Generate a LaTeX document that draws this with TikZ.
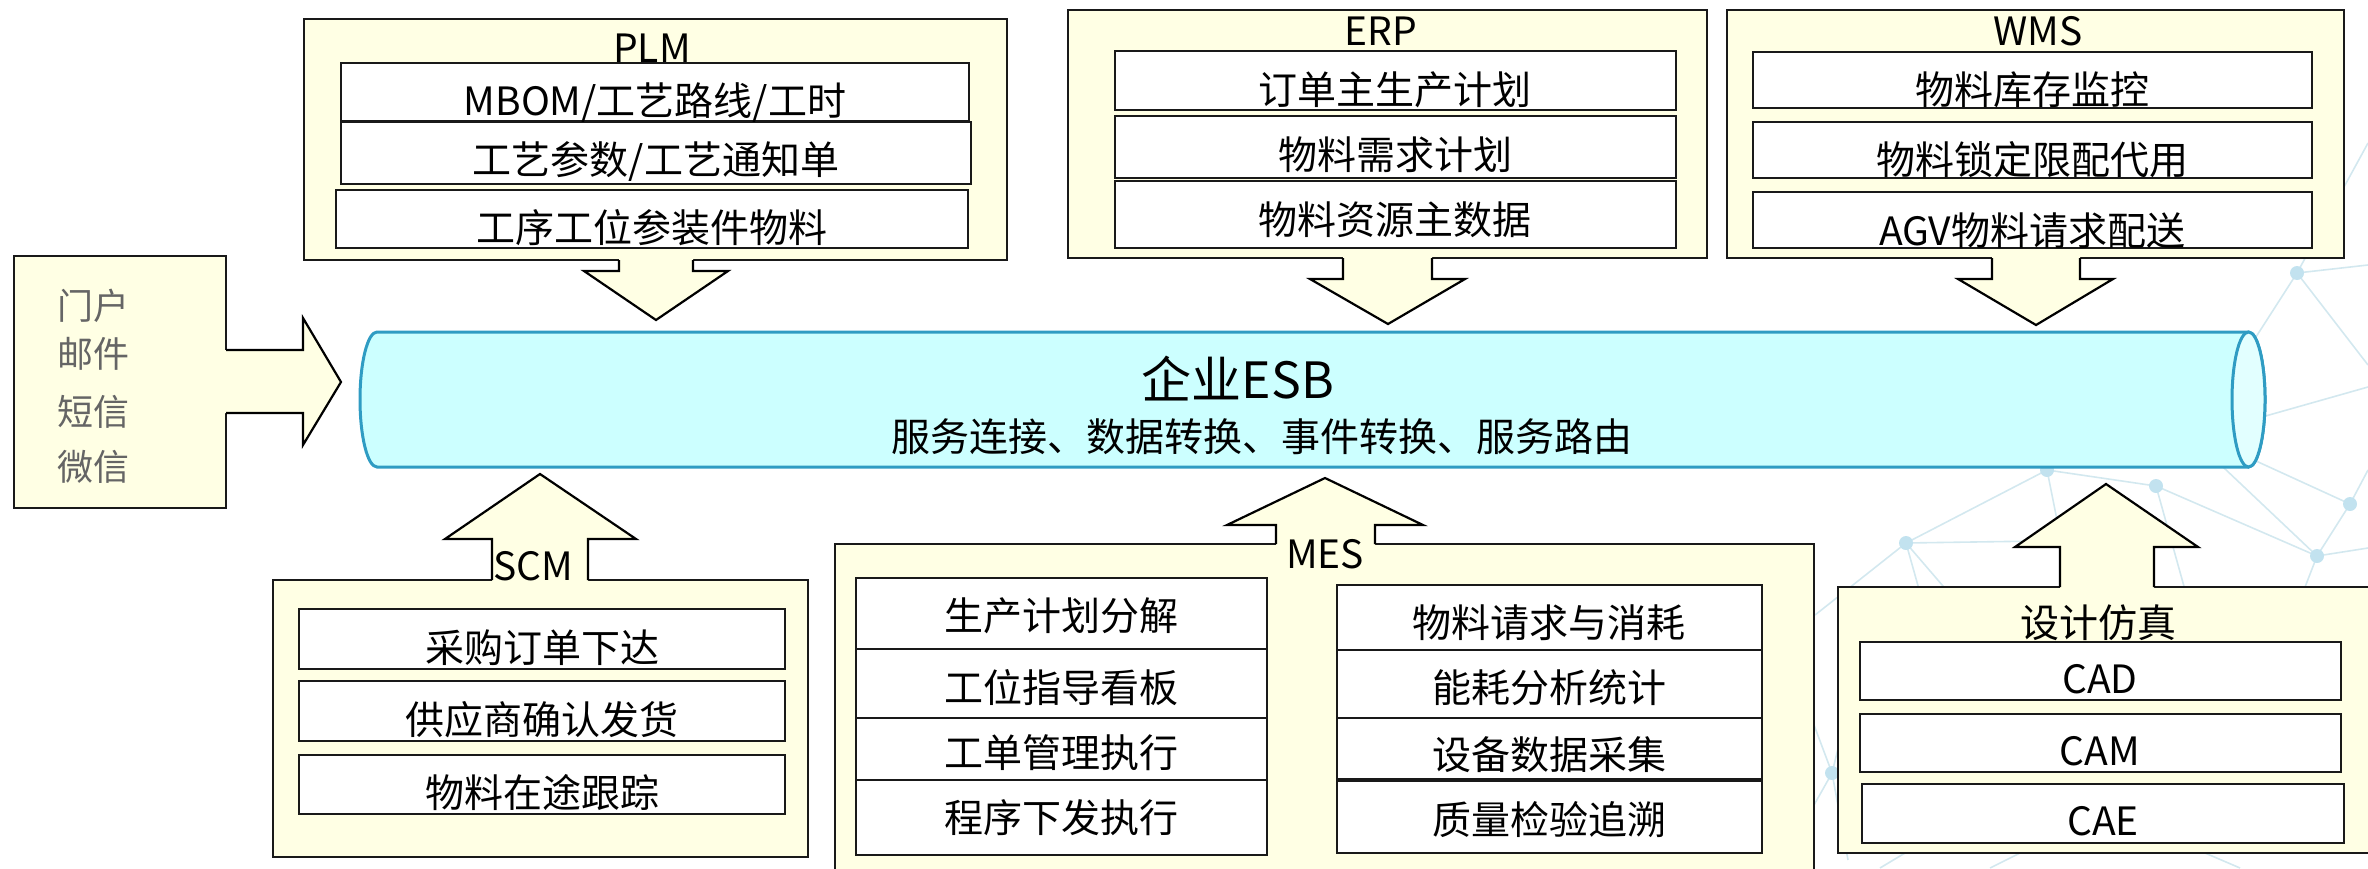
\documentclass[tikz,border=0pt]{standalone}
\usepackage{fontspec}
\setmainfont{Noto Sans CJK SC}
\definecolor{cream}{HTML}{FFFFE4}
\definecolor{esbfill}{HTML}{CCFFFF}
\definecolor{esblight}{HTML}{E2FFFF}
\definecolor{esbline}{HTML}{2F9CC3}
\definecolor{netline}{HTML}{D3E8EF}
\definecolor{netdot}{HTML}{C2E2EF}
\definecolor{leftgray}{HTML}{656565}
\begin{document}
\begin{tikzpicture}[x=1pt,y=-1pt,
  outer/.style={draw=black!90, line width=2.4pt, fill=cream, rectangle, inner sep=0pt},
  innerbox/.style={draw=black!90, line width=2pt, fill=white},
  txt/.style={font=\fontsize{39}{47}\selectfont, anchor=base, inner sep=0pt},
  lefttxt/.style={font=\fontsize{36}{42}\selectfont, anchor=base, inner sep=0pt, text=leftgray},
  arrfill/.style={fill=cream},
  arrline/.style={draw=black, line width=2.2pt, line join=miter},
  netl/.style={draw=netline, line width=1.6pt},
  netd/.style={fill=netdot}]
\useasboundingbox (0,0) rectangle (2368,868);

% ---------- background network ----------
\coordinate (nA) at (2297,273);
\coordinate (nB) at (2047,470);
\coordinate (nC) at (2156,486);
\coordinate (nD) at (1906,543);
\coordinate (nE) at (2350,504);
\coordinate (nF) at (2317,556);
\coordinate (nG) at (1832,773);
\draw[netl] (2368,143) -- (nA) -- (2368,265);
\draw[netl] (nA) -- (2254,340);
\draw[netl] (nA) -- (2368,365);
\draw[netl] (2262,417) -- (2368,387);
\draw[netl] (nD) -- (nB) -- (nC);
\draw[netl] (nB) -- (2062,545);
\draw[netl] (nB) -- (2100,420);
\draw[netl] (nC) -- (nF);
\draw[netl] (nC) -- (2185,590);
\draw[netl] (2232,450) -- (nE);
\draw[netl] (2205,450) -- (nF);
\draw[netl] (nE) -- (nF) -- (2368,548);
\draw[netl] (nE) -- (2368,470);
\draw[netl] (nF) -- (2300,600);
\draw[netl] (nD) -- (2040,541);
\draw[netl] (nD) -- (1955,600);
\draw[netl] (nD) -- (1922,600);
\draw[netl] (nD) -- (1815,615);
\draw[netl] (nG) -- (1814,725);
\draw[netl] (nG) -- (1850,700);
\draw[netl] (nG) -- (1814,805);
\draw[netl] (nG) -- (1848,860);
\draw[netl] (1880,868) -- (1905,853);
\draw[netl] (1990,868) -- (2020,853);
\draw[netl] (2205,853) -- (2240,868);
\foreach \p in {nA,nB,nC,nD,nE,nF,nG}
  \fill[netd] (\p) circle[radius=7];

% ---------- containers ----------
\node[outer, minimum width=703pt, minimum height=241pt] (plm) at (655.5,139.5) {};
\node[outer, minimum width=639pt, minimum height=248pt] (erp) at (1387.5,134) {};
\node[outer, minimum width=617pt, minimum height=248pt] (wms) at (2035.5,134) {};
\node[outer, minimum width=212pt, minimum height=252pt] (portal) at (120,382) {};
\node[outer, minimum width=535pt, minimum height=277pt] (scm) at (540.5,718.5) {};
\node[outer, minimum width=979pt, minimum height=356pt] (mes) at (1324.5,722) {};
\node[outer, minimum width=542pt, minimum height=266pt] (cae) at (2109,720) {};

% ---------- ESB cylinder ----------
\path[fill=esbfill, draw=esbline, line width=3pt]
  (377,332) -- (2248.5,332)
  arc[start angle=270, end angle=450, x radius=16.5, y radius=67.5]
  -- (377,467)
  arc[start angle=90, end angle=270, x radius=17, y radius=67.5] -- cycle;
\draw[esbline, fill=esblight, line width=3pt] (2248.5,399.5) ellipse[x radius=16.5, y radius=67.5];
\node[anchor=base, inner sep=0pt, font=\fontsize{50}{60}\selectfont] (esb) at (1238,398) {企业ESB};
\node[anchor=base, inner sep=0pt, font=\fontsize{39}{46}\selectfont] (esbsub) at (1262,451) {服务连接、数据转换、事件转换、服务路由};
\coordinate (esbL) at (341,382);

% ---------- block arrows ----------
% PLM
\fill[arrfill] (619,258) -- (619,271) -- (584,271) -- (656,320) -- (728,271) -- (693,271) -- (693,258) -- cycle;
\draw[arrline] (619,260) -- (619,271) -- (584,271) -- (656,320) coordinate (plmtip) -- (728,271) -- (693,271) -- (693,260);
% ERP
\fill[arrfill] (1343,256) -- (1343,279) -- (1310,279) -- (1388,324) -- (1465,279) -- (1432,279) -- (1432,256) -- cycle;
\draw[arrline] (1343,258) -- (1343,279) -- (1310,279) -- (1388,324) coordinate (erptip) -- (1465,279) -- (1432,279) -- (1432,258);
% WMS
\fill[arrfill] (1992,256) -- (1992,279) -- (1958,279) -- (2036,325) -- (2113,279) -- (2080,279) -- (2080,256) -- cycle;
\draw[arrline] (1992,258) -- (1992,279) -- (1958,279) -- (2036,325) coordinate (wmstip) -- (2113,279) -- (2080,279) -- (2080,258);
% portal
\fill[arrfill] (224,350) -- (303,350) -- (303,318) -- (341,382) -- (303,445) -- (303,413) -- (224,413) -- cycle;
\draw[arrline] (226,350) -- (303,350) -- (303,318) -- (esbL) -- (303,445) -- (303,413) -- (226,413);
% SCM
\fill[arrfill] (492,582) -- (492,539) -- (445,539) -- (540,474) -- (636,539) -- (588,539) -- (588,582) -- cycle;
\draw[arrline] (492,580) -- (492,539) -- (445,539) -- (540,474) coordinate (scmtip) -- (636,539) -- (588,539) -- (588,580);
% MES
\fill[arrfill] (1276,546) -- (1276,525) -- (1227,525) -- (1325,478) -- (1423,525) -- (1375,525) -- (1375,546) -- cycle;
\draw[arrline] (1276,544) -- (1276,525) -- (1227,525) -- (1325,478) coordinate (mestip) -- (1423,525) -- (1375,525) -- (1375,544);
% design
\fill[arrfill] (2060,589) -- (2060,547) -- (2015,547) -- (2106,484) -- (2198,547) -- (2154,547) -- (2154,589) -- cycle;
\draw[arrline] (2060,587) -- (2060,547) -- (2015,547) -- (2106,484) coordinate (caetip) -- (2198,547) -- (2154,547) -- (2154,587);

% ---------- container titles ----------
\node[txt] (plmt) at (652,62) {PLM};
\node[txt] (erpt) at (1381,45) {ERP};
\node[txt] (wmst) at (2038,45) {WMS};
\node[txt] (scmt) at (533,580) {SCM};
\node[txt] (mest) at (1325,568) {MES};
\node[txt] (caet) at (2098,637) {设计仿真};

% ---------- PLM items ----------
\draw[innerbox] (341,63) rectangle (969,121);
\draw[innerbox] (341,122) rectangle (971,184);
\draw[innerbox] (336,190) rectangle (968,248);
\node[txt] (p1) at (655,115) {MBOM/工艺路线/工时};
\node[txt] (p2) at (656,174) {工艺参数/工艺通知单};
\node[txt] (p3) at (652,242) {工序工位参装件物料};

% ---------- ERP items ----------
\draw[innerbox] (1115,51) rectangle (1676,110);
\draw[innerbox] (1115,116) rectangle (1676,178);
\draw[innerbox] (1115,181) rectangle (1676,248);
\node[txt] (e1) at (1395,104) {订单主生产计划};
\node[txt] (e2) at (1395,169) {物料需求计划};
\node[txt] (e3) at (1395,234) {物料资源主数据};

% ---------- WMS items ----------
\draw[innerbox] (1753,52) rectangle (2312,108);
\draw[innerbox] (1753,122) rectangle (2312,178);
\draw[innerbox] (1753,192) rectangle (2312,248);
\node[txt] (w1) at (2032,104) {物料库存监控};
\node[txt] (w2) at (2032,174) {物料锁定限配代用};
\node[txt] (w3) at (2032,245) {AGV物料请求配送};

% ---------- portal text ----------
\node[lefttxt] (l1) at (93,319) {门户};
\node[lefttxt] (l2) at (93,367) {邮件};
\node[lefttxt] (l3) at (93,425) {短信};
\node[lefttxt] (l4) at (93,480) {微信};

% ---------- SCM items ----------
\draw[innerbox] (299,609) rectangle (785,669);
\draw[innerbox] (299,681) rectangle (785,741);
\draw[innerbox] (299,755) rectangle (785,814);
\node[txt] (s1) at (542,662) {采购订单下达};
\node[txt] (s2) at (542,734) {供应商确认发货};
\node[txt] (s3) at (542,807) {物料在途跟踪};

% ---------- MES items ----------
\draw[innerbox] (856,578) rectangle (1267,649);
\draw[innerbox] (856,649) rectangle (1267,718);
\draw[innerbox] (856,718) rectangle (1267,780);
\draw[innerbox] (856,780) rectangle (1267,855);
\draw[innerbox] (1337,585) rectangle (1762,650);
\draw[innerbox] (1337,650) rectangle (1762,718);
\draw[innerbox] (1337,718) rectangle (1762,779);
\draw[innerbox] (1337,781) rectangle (1762,853);
\node[txt] (m1) at (1061,630) {生产计划分解};
\node[txt] (m2) at (1061,702) {工位指导看板};
\node[txt] (m3) at (1061,767) {工单管理执行};
\node[txt] (m4) at (1061,832) {程序下发执行};
\node[txt] (m5) at (1549,637) {物料请求与消耗};
\node[txt] (m6) at (1549,702) {能耗分析统计};
\node[txt] (m7) at (1549,769) {设备数据采集};
\node[txt] (m8) at (1549,834) {质量检验追溯};

% ---------- design items ----------
\draw[innerbox] (1860,642) rectangle (2341,700);
\draw[innerbox] (1860,714) rectangle (2341,772);
\draw[innerbox] (1862,784) rectangle (2344,843);
\node[txt] (c1) at (2100,693) {CAD};
\node[txt] (c2) at (2100,765) {CAM};
\node[txt] (c3) at (2103,835) {CAE};
\end{tikzpicture}
\end{document}
